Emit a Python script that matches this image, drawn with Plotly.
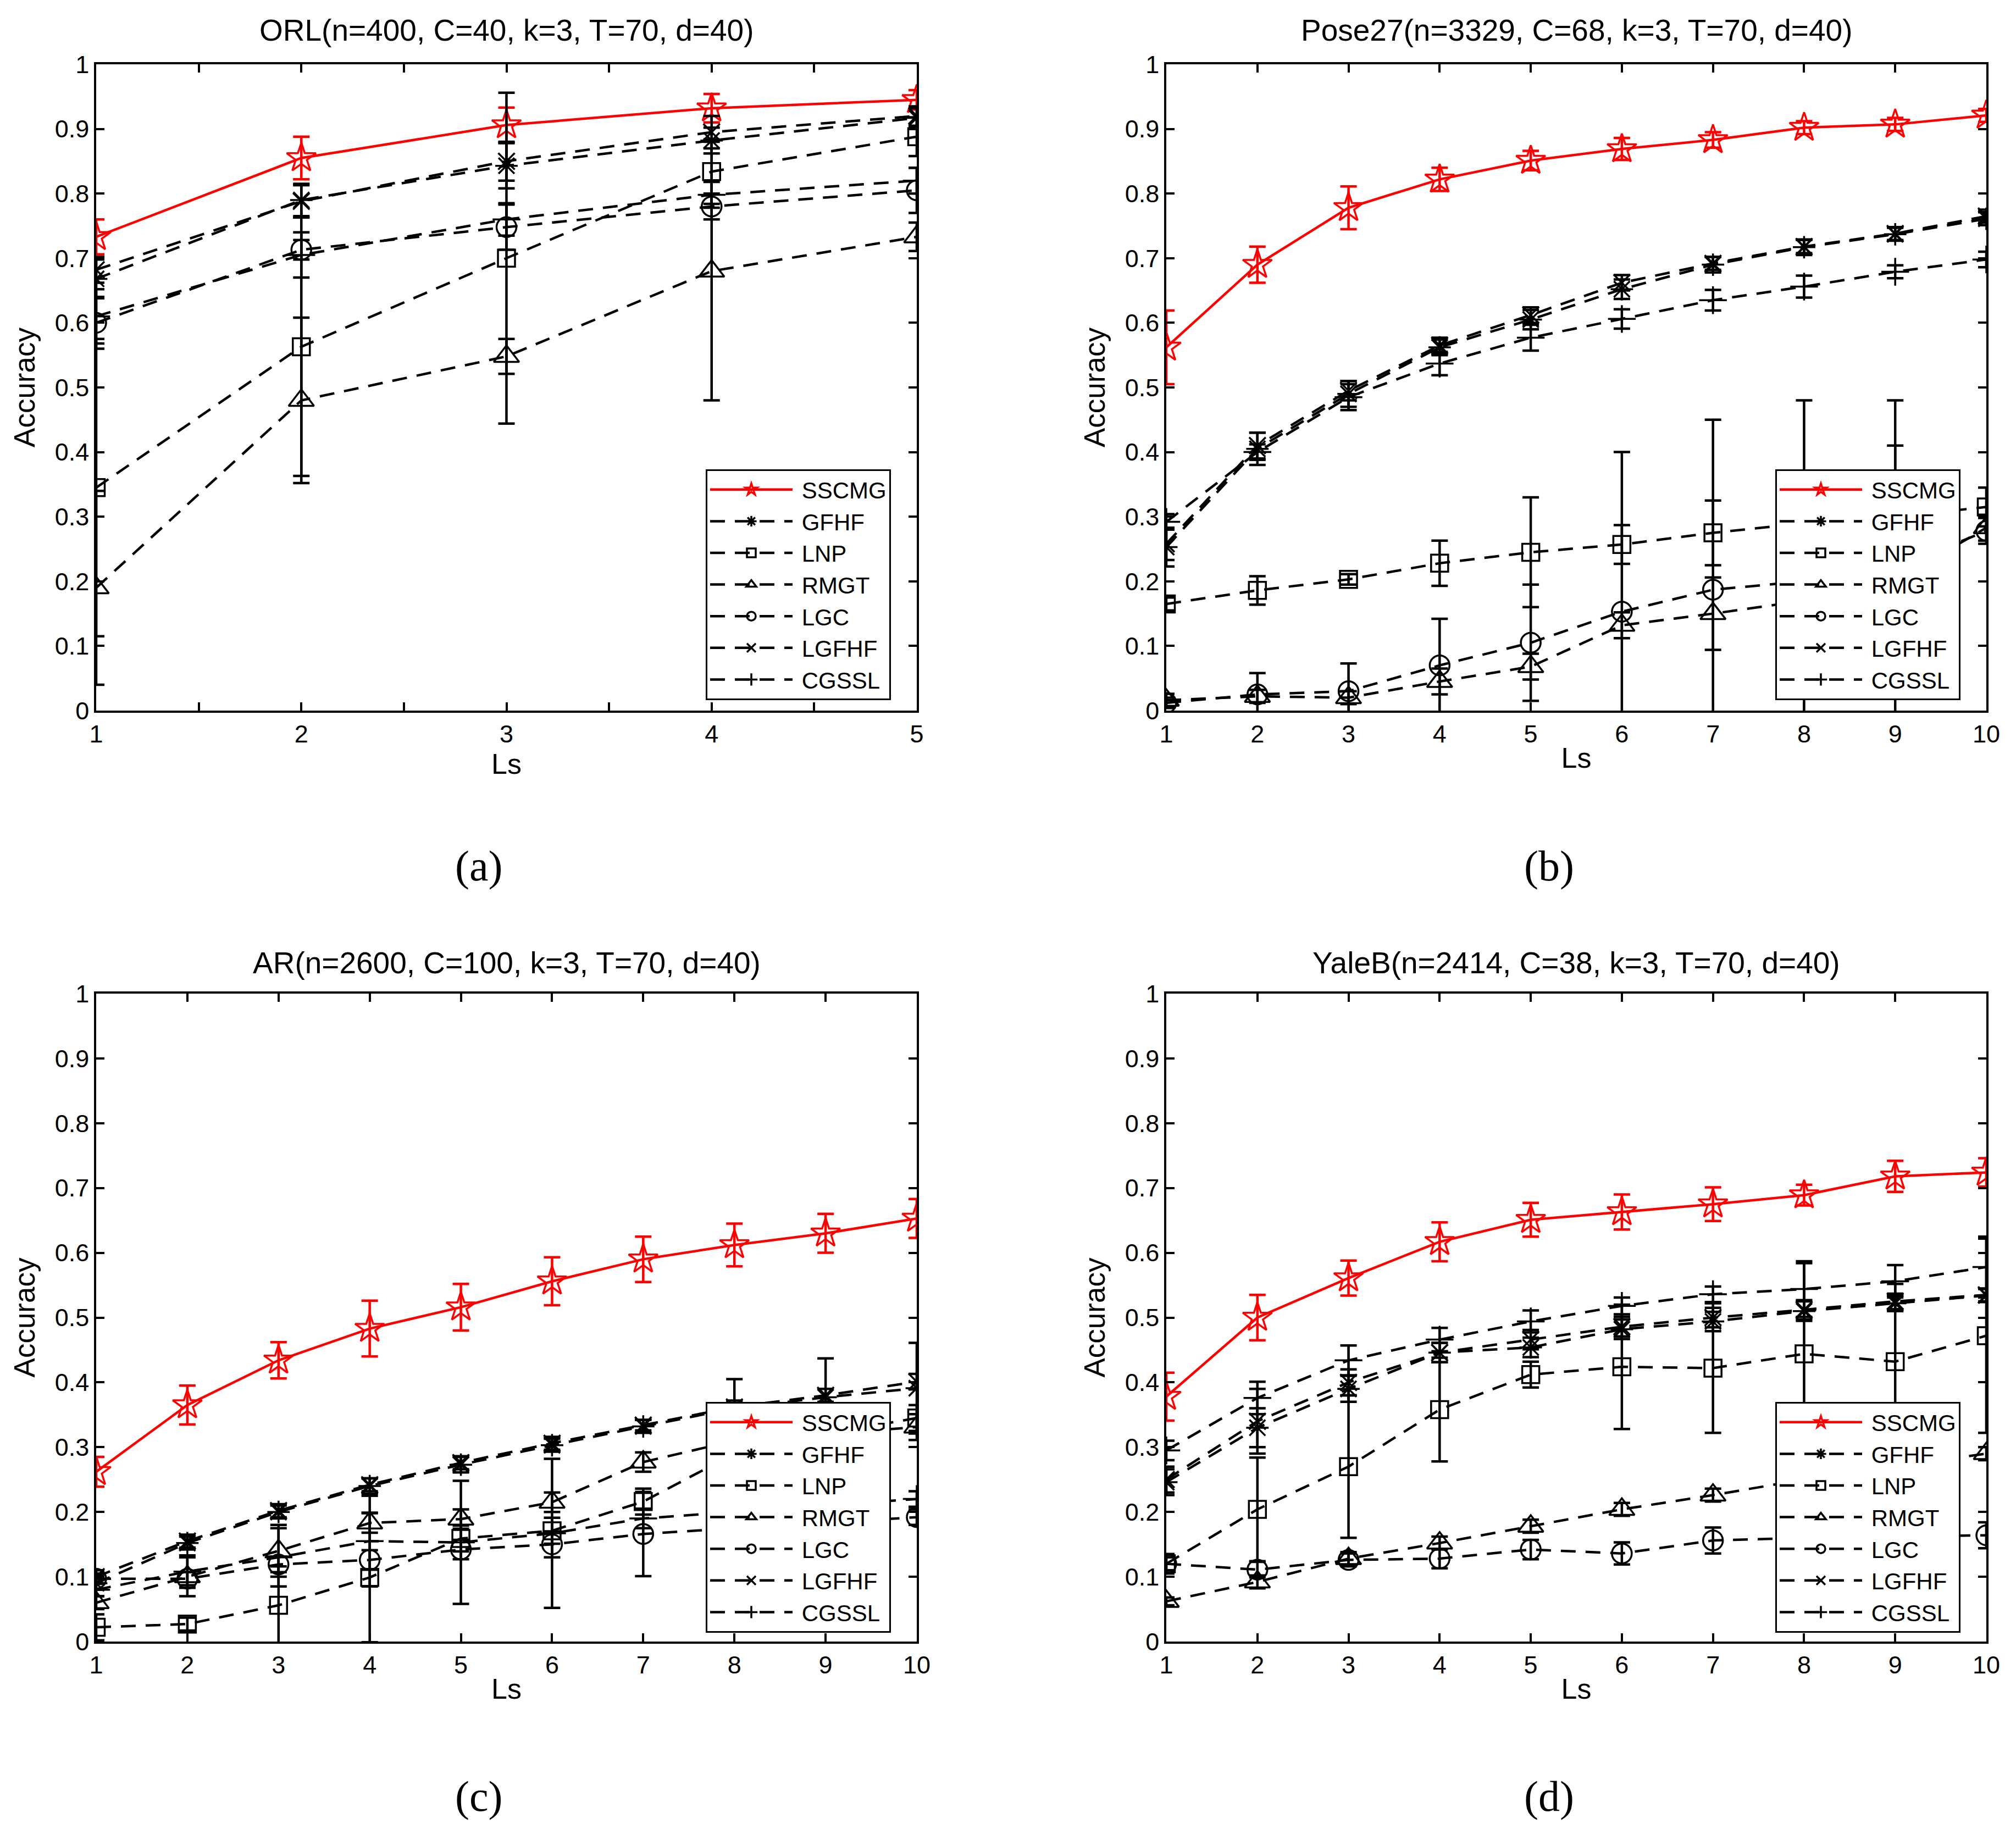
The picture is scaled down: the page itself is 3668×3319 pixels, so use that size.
import plotly.graph_objects as go
from plotly.subplots import make_subplots

# --- DATA ---
methods = ["SSCMG", "GFHF", "LNP", "RMGT", "LGC", "LGFHF", "CGSSL"]

orl_ls = [1, 2, 3, 4, 5]
ls_10 = [1, 2, 3, 4, 5, 6, 7, 8, 9, 10]

orl_mean = {
    "SSCMG": [0.733, 0.855, 0.906, 0.932, 0.945],
    "GFHF": [0.668, 0.790, 0.843, 0.882, 0.917],
    "LNP": [0.345, 0.563, 0.700, 0.834, 0.888],
    "RMGT": [0.190, 0.480, 0.548, 0.680, 0.733],
    "LGC": [0.600, 0.713, 0.748, 0.780, 0.805],
    "LGFHF": [0.682, 0.788, 0.850, 0.895, 0.920],
    "CGSSL": [0.610, 0.705, 0.760, 0.798, 0.820],
}
orl_err = {
    "SSCMG": [0.027, 0.033, 0.027, 0.022, 0.015],
    "GFHF": [0.030, 0.025, 0.035, 0.020, 0.015],
    "LNP": [0.230, 0.200, 0.256, 0.050, 0.030],
    "RMGT": [0.150, 0.128, 0.027, 0.200, 0.022],
    "LGC": [0.040, 0.015, 0.035, 0.020, 0.035],
    "LGFHF": [0.020, 0.025, 0.030, 0.025, 0.015],
    "CGSSL": [0.042, 0.035, 0.025, 0.020, 0.020],
}

pose_mean = {
    "SSCMG": [0.562, 0.690, 0.778, 0.822, 0.851, 0.869, 0.883, 0.902, 0.907, 0.921],
    "GFHF": [0.253, 0.405, 0.490, 0.562, 0.605, 0.652, 0.690, 0.717, 0.737, 0.761],
    "LNP": [0.165, 0.186, 0.203, 0.228, 0.245, 0.257, 0.275, 0.290, 0.300, 0.315],
    "RMGT": [0.016, 0.022, 0.020, 0.045, 0.068, 0.132, 0.150, 0.170, 0.200, 0.283],
    "LGC": [0.012, 0.025, 0.030, 0.070, 0.105, 0.153, 0.187, 0.200, 0.220, 0.278],
    "LGFHF": [0.258, 0.410, 0.495, 0.565, 0.612, 0.662, 0.692, 0.718, 0.738, 0.765],
    "CGSSL": [0.292, 0.400, 0.485, 0.537, 0.577, 0.606, 0.635, 0.656, 0.679, 0.698],
}
pose_err = {
    "SSCMG": [0.057, 0.028, 0.033, 0.018, 0.015, 0.017, 0.012, 0.010, 0.010, 0.010],
    "GFHF": [0.030, 0.025, 0.020, 0.012, 0.015, 0.015, 0.012, 0.012, 0.010, 0.010],
    "LNP": [0.010, 0.022, 0.008, 0.035, 0.085, 0.030, 0.050, 0.030, 0.110, 0.030],
    "RMGT": [0.010, 0.010, 0.010, 0.020, 0.020, 0.020, 0.056, 0.030, 0.030, 0.020],
    "LGC": [0.008, 0.033, 0.043, 0.072, 0.090, 0.247, 0.263, 0.280, 0.260, 0.020],
    "LGFHF": [0.025, 0.020, 0.015, 0.012, 0.012, 0.012, 0.010, 0.010, 0.010, 0.010],
    "CGSSL": [0.012, 0.012, 0.020, 0.018, 0.020, 0.015, 0.016, 0.017, 0.010, 0.012],
}

ar_mean = {
    "SSCMG": [0.262, 0.365, 0.434, 0.483, 0.516, 0.556, 0.590, 0.612, 0.630, 0.653],
    "GFHF": [0.090, 0.152, 0.200, 0.240, 0.273, 0.303, 0.332, 0.360, 0.377, 0.391],
    "LNP": [0.022, 0.027, 0.056, 0.099, 0.159, 0.171, 0.216, 0.290, 0.320, 0.345],
    "RMGT": [0.060, 0.100, 0.140, 0.183, 0.189, 0.215, 0.277, 0.310, 0.320, 0.331],
    "LGC": [0.097, 0.097, 0.119, 0.126, 0.142, 0.150, 0.166, 0.175, 0.183, 0.192],
    "LGFHF": [0.100, 0.155, 0.202, 0.242, 0.276, 0.306, 0.334, 0.362, 0.380, 0.401],
    "CGSSL": [0.080, 0.108, 0.130, 0.155, 0.153, 0.167, 0.190, 0.200, 0.210, 0.220],
}
ar_err = {
    "SSCMG": [0.023, 0.030, 0.028, 0.043, 0.036, 0.037, 0.035, 0.033, 0.030, 0.030],
    "GFHF": [0.010, 0.010, 0.010, 0.012, 0.012, 0.010, 0.010, 0.045, 0.060, 0.070],
    "LNP": [0.020, 0.010, 0.060, 0.100, 0.020, 0.020, 0.020, 0.030, 0.030, 0.020],
    "RMGT": [0.010, 0.030, 0.040, 0.015, 0.015, 0.015, 0.015, 0.020, 0.020, 0.020],
    "LGC": [0.008, 0.010, 0.012, 0.015, 0.015, 0.020, 0.065, 0.020, 0.020, 0.012],
    "LGFHF": [0.010, 0.010, 0.010, 0.010, 0.010, 0.010, 0.008, 0.010, 0.010, 0.012],
    "CGSSL": [0.010, 0.025, 0.045, 0.070, 0.095, 0.115, 0.015, 0.020, 0.020, 0.012],
}

yale_mean = {
    "SSCMG": [0.378, 0.500, 0.561, 0.617, 0.651, 0.663, 0.675, 0.689, 0.718, 0.724],
    "GFHF": [0.246, 0.330, 0.390, 0.446, 0.454, 0.482, 0.494, 0.510, 0.522, 0.534],
    "LNP": [0.120, 0.204, 0.270, 0.358, 0.412, 0.424, 0.422, 0.444, 0.432, 0.472],
    "RMGT": [0.062, 0.092, 0.128, 0.152, 0.178, 0.204, 0.226, 0.250, 0.270, 0.290],
    "LGC": [0.120, 0.111, 0.126, 0.128, 0.142, 0.136, 0.156, 0.160, 0.162, 0.164],
    "LGFHF": [0.250, 0.340, 0.400, 0.446, 0.466, 0.486, 0.500, 0.512, 0.525, 0.535],
    "CGSSL": [0.295, 0.376, 0.434, 0.466, 0.494, 0.518, 0.536, 0.544, 0.556, 0.578],
}
yale_err = {
    "SSCMG": [0.037, 0.035, 0.027, 0.030, 0.026, 0.027, 0.026, 0.016, 0.024, 0.022],
    "GFHF": [0.020, 0.030, 0.020, 0.015, 0.015, 0.015, 0.015, 0.015, 0.012, 0.010],
    "LNP": [0.010, 0.080, 0.110, 0.080, 0.020, 0.096, 0.100, 0.140, 0.120, 0.150],
    "RMGT": [0.006, 0.010, 0.010, 0.010, 0.010, 0.010, 0.010, 0.010, 0.010, 0.010],
    "LGC": [0.015, 0.012, 0.010, 0.015, 0.015, 0.017, 0.020, 0.015, 0.015, 0.020],
    "LGFHF": [0.020, 0.050, 0.020, 0.015, 0.015, 0.015, 0.015, 0.015, 0.012, 0.010],
    "CGSSL": [0.015, 0.025, 0.023, 0.018, 0.017, 0.013, 0.012, 0.043, 0.025, 0.047],
}

titles = [
    "ORL(n=400, C=40, k=3, T=70, d=40)",
    "Pose27(n=3329, C=68, k=3, T=70, d=40)",
    "AR(n=2600, C=100, k=3, T=70, d=40)",
    "YaleB(n=2414, C=38, k=3, T=70, d=40)",
]
panel_labels = ["(a)", "(b)", "(c)", "(d)"]

orl_tickvals = [1, 1.5, 2, 2.5, 3, 3.5, 4, 4.5, 5]
orl_ticktext = ["1", "", "2", "", "3", "", "4", "", "5"]
y_tickvals = [0, 0.1, 0.2, 0.3, 0.4, 0.5, 0.6, 0.7, 0.8, 0.9, 1]
y_ticktext = ["0", "0.1", "0.2", "0.3", "0.4", "0.5", "0.6", "0.7", "0.8", "0.9", "1"]

# --- STYLE ---
symbols = {
    "SSCMG": "star-open", "GFHF": "asterisk-open", "LNP": "square-open",
    "RMGT": "triangle-up-open", "LGC": "circle-open", "LGFHF": "x-thin-open",
    "CGSSL": "cross-thin-open",
}
msize = {"SSCMG": 40, "GFHF": 34, "LNP": 31, "RMGT": 40, "LGC": 36, "LGFHF": 30, "CGSSL": 36}
FONT = "Liberation Sans, Arial, sans-serif"
DASH = "27px,18px"
W, H = 3668, 3319
PAD = 8  # page body margin offset


def px_x(p):
    return (p - PAD) / W


def px_y(p):
    return 1 - (p - PAD) / H


x_px = [(175, 1668), (2122, 3614)]
y_px = [(117, 1293), (1808, 2987)]
x_dom = [[px_x(a), px_x(b)] for a, b in x_px]
y_dom = [[px_y(b), px_y(a)] for a, b in y_px]

fig = make_subplots(rows=2, cols=2)

panels = [
    (1, 1, orl_ls, orl_mean, orl_err),
    (1, 2, ls_10, pose_mean, pose_err),
    (2, 1, ls_10, ar_mean, ar_err),
    (2, 2, ls_10, yale_mean, yale_err),
]

for i, (r, c, xs, mean, err) in enumerate(panels):
    leg = "legend" if i == 0 else f"legend{i + 1}"
    for m in methods:
        col = "#FF0000" if m == "SSCMG" else "black"
        fig.add_trace(go.Scatter(
            x=xs, y=mean[m], name="\u00a0" + m, mode="lines+markers",
            line=dict(color=col, width=4.5, dash="solid" if m == "SSCMG" else DASH),
            marker=dict(symbol=symbols[m], size=msize[m], color=col,
                        line=dict(color=col, width=3.5)),
            error_y=dict(type="data", array=err[m], visible=True,
                         color=col, thickness=4.5, width=15),
            legend=leg, showlegend=True,
        ), row=r, col=c)

axis_common = dict(
    showline=True, linecolor="black", linewidth=3.5, mirror="ticks",
    ticks="inside", ticklen=15, tickwidth=3.5, tickcolor="black",
    showgrid=False, zeroline=False, automargin=False,
    tickfont=dict(family=FONT, size=45, color="black"),
)

for i, (r, c, xs, mean, err) in enumerate(panels):
    xa = "xaxis" if i == 0 else f"xaxis{i + 1}"
    ya = "yaxis" if i == 0 else f"yaxis{i + 1}"
    if i == 0:
        xt = dict(tickmode="array", tickvals=orl_tickvals, ticktext=orl_ticktext, range=[1, 5])
    else:
        xt = dict(tickmode="array", tickvals=ls_10, range=[1, 10])
    fig.update_layout({
        xa: dict(domain=x_dom[c - 1], **xt, **axis_common,
                 title=dict(text="Ls", font=dict(family=FONT, size=52, color="black"), standoff=2)),
        ya: dict(domain=y_dom[r - 1], range=[0, 1], tickmode="array",
                 tickvals=y_tickvals, ticktext=y_ticktext, **axis_common,
                 title=dict(text="Accuracy", font=dict(family=FONT, size=53, color="black"), standoff=20)),
    })

# --- LEGENDS (one per panel, lower right inside the axes) ---
leg_pos = [(1284, 1064), (3230, 1064), (1284, 2761), (3230, 2761)]
for i, (lx, ly) in enumerate(leg_pos):
    key = "legend" if i == 0 else f"legend{i + 1}"
    fig.update_layout({key: dict(
        x=px_x(lx), y=px_y(ly), xanchor="left", yanchor="middle",
        bgcolor="white", bordercolor="black", borderwidth=3,
        font=dict(family=FONT, size=42, color="black"),
        itemwidth=150, itemsizing="trace", traceorder="normal",
        tracegroupgap=0,
    )})

# --- TITLES AND PANEL LABELS ---
title_ypx = [55, 55, 1752, 1752]
label_ypx = [1575, 1575, 3268, 3268]
for i, t in enumerate(titles):
    xa, xb = x_px[i % 2]
    xc = (xa + xb) / 2
    fig.add_annotation(text=t, x=px_x(xc), y=px_y(title_ypx[i]), xref="paper", yref="paper",
                       showarrow=False, xanchor="center", yanchor="middle",
                       font=dict(family=FONT, size=55, color="black"))
    fig.add_annotation(text=panel_labels[i], x=px_x(xc - 50), y=px_y(label_ypx[i]),
                       xref="paper", yref="paper",
                       showarrow=False, xanchor="center", yanchor="middle",
                       font=dict(family="Liberation Serif, Times New Roman, serif", size=78, color="black"))

fig.update_layout(
    width=W, height=H,
    margin=dict(l=0, r=0, t=0, b=0),
    paper_bgcolor="white", plot_bgcolor="white",
)

fig.write_html("out.html")
